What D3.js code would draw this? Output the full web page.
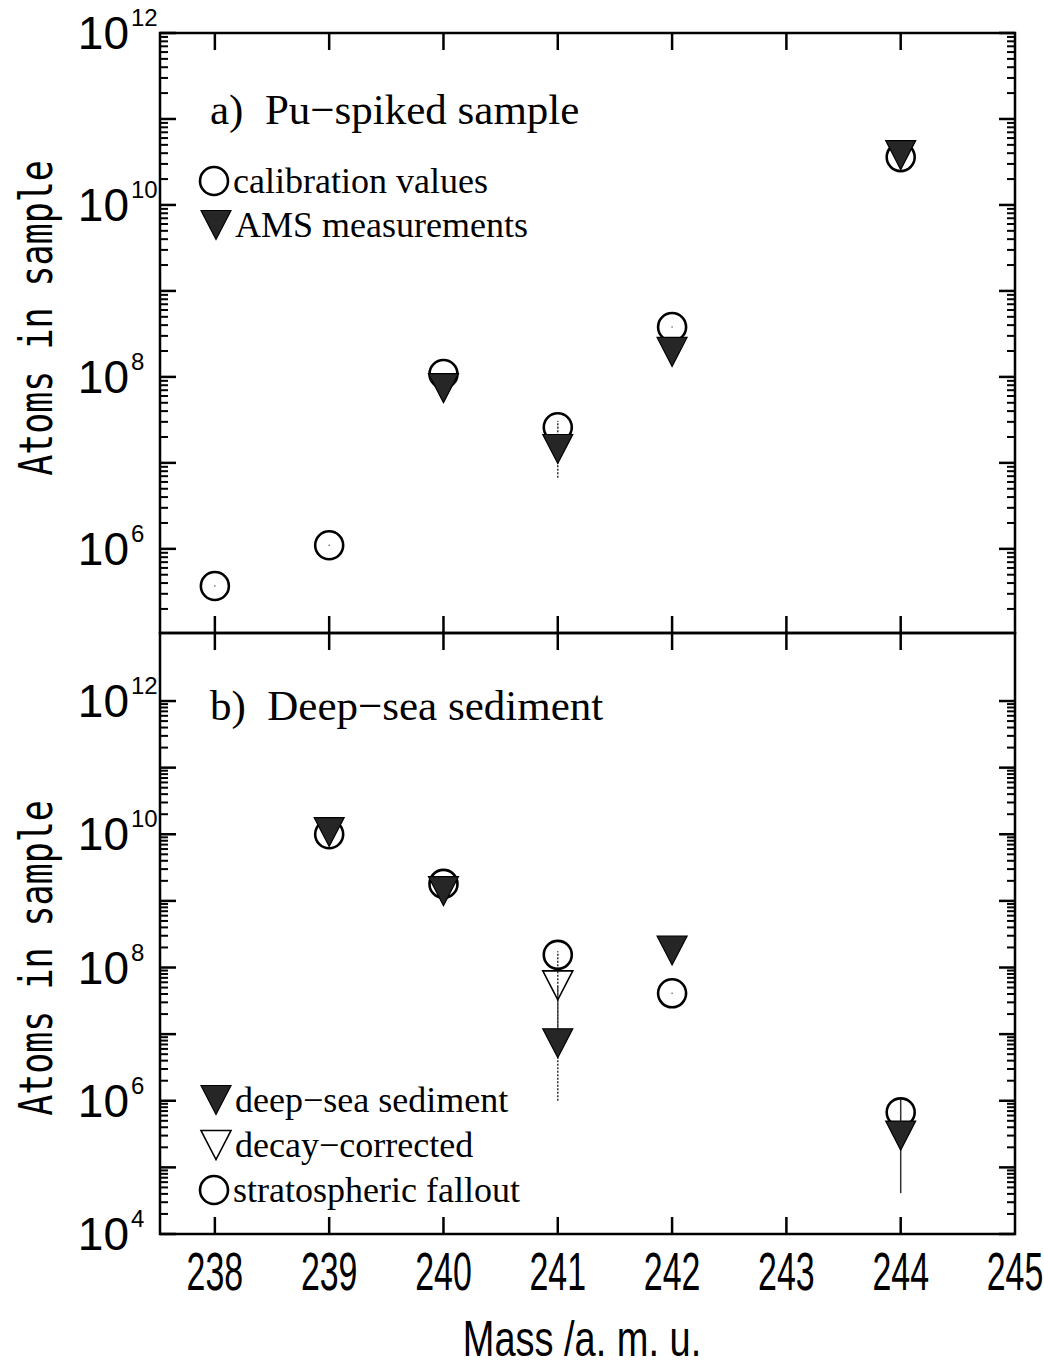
<!DOCTYPE html>
<html>
<head>
<meta charset="utf-8">
<script src="https://cdn.jsdelivr.net/npm/d3@7"></script>
<style>
  body { margin: 0; background: #fff; }
  svg text { white-space: pre; }
</style>
</head>
<body>
<svg id="chart" width="1044" height="1367"></svg>
<script>
// ---- data ----
var massTicks = [238, 239, 240, 241, 242, 243, 244, 245];

// a) Pu-spiked sample
var calibMass = [238, 239, 240, 241, 242, 244];
var calibVals = [3.7e5, 1.1e6, 1.08e8, 2.6e7, 3.8e8, 3.6e10];
var amsMass = [240, 241, 242, 244];
var amsVals = [7.4e7, 1.45e7, 1.95e8, 3.8e10];
var amsLo = [null, 6.7e6, null, null];
var amsHi = [null, 3.1e7, null, null];

// b) Deep-sea sediment
var sedMass = [239, 240, 241, 242, 244];
var sedVals = [1.08e10, 1.4e9, 7.3e6, 1.8e8, 3.0e5];
var sedLo = [null, null, 1.0e6, null, 4.1e4];
var sedHi = [null, null, 5.4e7, null, 1.05e6];
var decayMass = [241];
var decayVals = [5.4e7];
var decayLo = [7.3e6];
var decayHi = [1.75e8];
var falloutMass = [239, 240, 241, 242, 244];
var falloutVals = [1.0e10, 1.8e9, 1.55e8, 4.1e7, 6.7e5];

var topLabels = [6, 8, 10, 12];
var botLabels = [4, 6, 8, 10, 12];

// ---- layout ----
var L = 160, R = 1015;
var svg = d3.select('#chart');

var x = d3.scaleLinear().domain([237.52, 245]).range([L, R]);
var yTop = d3.scaleLog().domain([1.05e5, 1e12]).range([633, 33]);
var yBot = d3.scaleLog().domain([1e4, 1.05e13]).range([1234, 633]);

function zip(ms, vs, lo, hi) {
  return ms.map(function(m, i) {
    return { m: m, v: vs[i], lo: lo ? lo[i] : null, hi: hi ? hi[i] : null };
  });
}

function logTicks(lowExp, highExp, dom) {
  var t = [];
  for (var e = lowExp; e <= highExp; e++) {
    for (var k = 1; k <= 9; k++) {
      var v = k * Math.pow(10, e);
      if (v >= dom[0] && v <= dom[1] && v <= Math.pow(10, highExp) * 1.0001) t.push({ v: v, major: k === 1 });
    }
  }
  return t;
}

var tri = 'M-15,-14.5L15,-14.5L0,14.5Z';

function drawPanel(y, top, bottom, ticks, labels, xTicksTop, xTicksBottom) {
  var g = svg.append('g');

  // y ticks, left and right, pointing inward
  g.selectAll('line.yl').data(ticks).enter().append('line')
      .attr('x1', L).attr('x2', function(d) { return L + (d.major ? 16 : 8); })
      .attr('y1', function(d) { return y(d.v); }).attr('y2', function(d) { return y(d.v); })
      .attr('stroke', '#000').attr('stroke-width', function(d) { return d.major ? 2.5 : 2; });
  g.selectAll('line.yr').data(ticks).enter().append('line')
      .attr('x1', R).attr('x2', function(d) { return R - (d.major ? 16 : 8); })
      .attr('y1', function(d) { return y(d.v); }).attr('y2', function(d) { return y(d.v); })
      .attr('stroke', '#000').attr('stroke-width', function(d) { return d.major ? 2.5 : 2; });

  // x ticks
  if (xTicksTop) {
    g.selectAll('line.xt').data(massTicks.slice(0, 7)).enter().append('line')
        .attr('x1', function(d) { return x(d); }).attr('x2', function(d) { return x(d); })
        .attr('y1', top).attr('y2', top + 17)
        .attr('stroke', '#000').attr('stroke-width', 2.5);
  }
  if (xTicksBottom) {
    g.selectAll('line.xb').data(massTicks.slice(0, 7)).enter().append('line')
        .attr('x1', function(d) { return x(d); }).attr('x2', function(d) { return x(d); })
        .attr('y1', bottom).attr('y2', bottom - 17)
        .attr('stroke', '#000').attr('stroke-width', 2.5);
  }

  // y tick labels 10^n
  var lab = g.selectAll('g.lab').data(labels).enter().append('g')
      .attr('transform', function(d) { return 'translate(129,' + y(Math.pow(10, d)) + ')'; });
  lab.append('text')
      .attr('text-anchor', 'end').attr('y', 16)
      .attr('font-family', 'Liberation Sans, Arial, sans-serif').attr('font-size', 46)
      .text('10');
  lab.append('text')
      .attr('x', 2).attr('y', -7)
      .attr('font-family', 'Liberation Sans, Arial, sans-serif').attr('font-size', 24)
      .text(function(d) { return d; });

  // frame
  g.append('rect').attr('x', L).attr('y', top).attr('width', R - L).attr('height', bottom - top)
      .attr('fill', 'none').attr('stroke', '#000').attr('stroke-width', 2.5);
  return g;
}

function errBars(g, y, data) {
  g.selectAll(null).data(data.filter(function(d) { return d.lo != null; })).enter().append('line')
      .attr('x1', function(d) { return x(d.m); }).attr('x2', function(d) { return x(d.m); })
      .attr('y1', function(d) { return y(d.lo); }).attr('y2', function(d) { return y(d.hi); })
      .attr('stroke', '#333').attr('stroke-width', 1.5)
      .attr('stroke-dasharray', function(d) { return d.m === 241 ? '2,1.5' : null; });
}

function circles(g, y, data) {
  var c = g.selectAll(null).data(data).enter().append('g')
      .attr('transform', function(d) { return 'translate(' + x(d.m) + ',' + y(d.v) + ')'; });
  c.append('circle').attr('r', 14).attr('fill', 'none').attr('stroke', '#000').attr('stroke-width', 2.6);
  c.append('circle').attr('r', 0.8).attr('fill', '#555');
}

function triangles(g, y, data, filled) {
  g.selectAll(null).data(data).enter().append('path')
      .attr('d', tri)
      .attr('transform', function(d) { return 'translate(' + x(d.m) + ',' + y(d.v) + ')'; })
      .attr('fill', filled ? '#262626' : 'none')
      .attr('stroke', '#000').attr('stroke-width', filled ? 1.2 : 1.6);
}

function legend(g, items) {
  items.forEach(function(it) {
    if (it.shape === 'circle') {
      g.append('circle').attr('cx', it.x).attr('cy', it.y).attr('r', 14)
          .attr('fill', 'none').attr('stroke', '#000').attr('stroke-width', 2.6);
    } else {
      g.append('path').attr('d', tri)
          .attr('transform', 'translate(' + it.x + ',' + it.y + ')')
          .attr('fill', it.shape === 'tri' ? '#262626' : 'none')
          .attr('stroke', '#000').attr('stroke-width', it.shape === 'tri' ? 1.2 : 1.6);
    }
    g.append('text').attr('x', it.x + 19).attr('y', it.y + 12)
        .attr('font-family', 'Liberation Serif, Times New Roman, serif').attr('font-size', 36)
        .text(it.label);
  });
}

// ---- panel a ----
var gA = drawPanel(yTop, 33, 633, logTicks(5, 12, yTop.domain()), topLabels, true, true);
var calib = zip(calibMass, calibVals);
var ams = zip(amsMass, amsVals, amsLo, amsHi);
errBars(gA, yTop, ams);
circles(gA, yTop, calib);
triangles(gA, yTop, ams, true);

gA.append('text').attr('x', 210).attr('y', 124)
    .attr('font-family', 'Liberation Serif, Times New Roman, serif').attr('font-size', 43)
    .text('a)  Pu\u2212spiked sample');
legend(gA, [
  { shape: 'circle', x: 214, y: 181, label: 'calibration values' },
  { shape: 'tri', x: 216, y: 225, label: 'AMS measurements' }
]);

// ---- panel b ----
var gB = drawPanel(yBot, 633, 1234, logTicks(4, 12, yBot.domain()), botLabels, true, true);
var sed = zip(sedMass, sedVals, sedLo, sedHi);
var decay = zip(decayMass, decayVals, decayLo, decayHi);
var fallout = zip(falloutMass, falloutVals);
errBars(gB, yBot, sed);
errBars(gB, yBot, decay);
circles(gB, yBot, fallout);
triangles(gB, yBot, decay, false);
triangles(gB, yBot, sed, true);

gB.append('text').attr('x', 210).attr('y', 720)
    .attr('font-family', 'Liberation Serif, Times New Roman, serif').attr('font-size', 43)
    .text('b)  Deep\u2212sea sediment');
legend(gB, [
  { shape: 'tri', x: 216, y: 1100, label: 'deep\u2212sea sediment' },
  { shape: 'open', x: 216, y: 1145, label: 'decay\u2212corrected' },
  { shape: 'circle', x: 214, y: 1190, label: 'stratospheric fallout' }
]);

// ---- x tick labels ----
svg.selectAll('text.xl').data(massTicks).enter().append('text')
    .attr('transform', function(d) { return 'translate(' + x(d) + ',1290) scale(0.64,1)'; })
    .attr('text-anchor', 'middle')
    .attr('font-family', 'Liberation Sans, Arial, sans-serif').attr('font-size', 53)
    .text(function(d) { return d; });

// ---- axis titles ----
svg.append('text')
    .attr('transform', 'translate(582,1356) scale(0.76,1)')
    .attr('text-anchor', 'middle')
    .attr('font-family', 'Liberation Sans, Arial, sans-serif').attr('font-size', 50)
    .text('Mass /a. m. u.');

[318, 958].forEach(function(cy) {
  svg.append('text')
      .attr('transform', 'translate(52,' + cy + ') rotate(-90) scale(0.76,1)')
      .attr('text-anchor', 'middle')
      .attr('font-family', 'DejaVu Sans Mono, monospace').attr('font-size', 46)
      .text('Atoms in sample');
});
</script>
</body>
</html>
